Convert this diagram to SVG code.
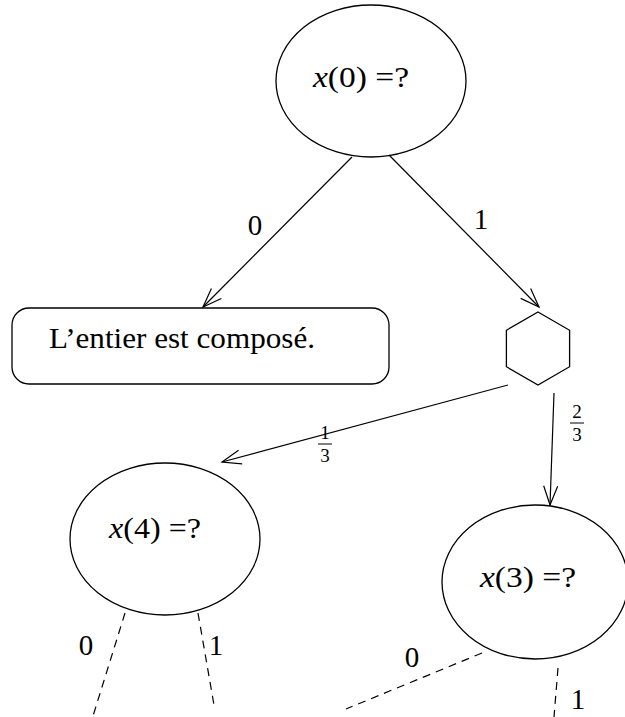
<svg xmlns="http://www.w3.org/2000/svg" width="625" height="717" viewBox="0 0 625 717">
<style>
.n{fill:none;stroke:#000;stroke-width:1.3}
.t{font-size:29px;fill:#000}
.f{font-size:19px;fill:#000}
.e{stroke:#000;stroke-width:1.2;fill:none}
.d{stroke:#000;stroke-width:1.2;fill:none;stroke-dasharray:8,6}
</style>
<defs>
<marker id="a" viewBox="-20 -8 22 16" markerWidth="22" markerHeight="16" refX="0" refY="0" orient="auto" markerUnits="userSpaceOnUse">
<path d="M-19,-7 L0,0 L-19,7" fill="none" stroke="#000" stroke-width="1.2"/>
</marker>
</defs>
<rect width="625" height="717" fill="#fff"/>
<g font-family="Liberation Serif, DejaVu Serif, serif">
<g id="n0">
<ellipse class="n" cx="371" cy="81" rx="95" ry="76"/>
<text class="t" x="313" y="87" textLength="96" lengthAdjust="spacingAndGlyphs"><tspan font-style="italic">x</tspan>(0) =?</text>
</g>
<g id="composite">
<rect class="n" x="12" y="308" width="377" height="76" rx="17"/>
<text class="t" x="49" y="348" textLength="266" lengthAdjust="spacingAndGlyphs">L’entier est composé.</text>
</g>
<g id="chance">
<polygon class="n" points="538,312 569.6,330.3 569.6,366.7 538,385 506.4,366.7 506.4,330.3"/>
</g>
<g id="n4">
<ellipse class="n" cx="165" cy="539" rx="95" ry="76"/>
<text class="t" x="109" y="538" textLength="92" lengthAdjust="spacingAndGlyphs"><tspan font-style="italic">x</tspan>(4) =?</text>
</g>
<g id="n3">
<ellipse class="n" cx="535" cy="582" rx="93" ry="77"/>
<text class="t" x="480" y="587" textLength="96" lengthAdjust="spacingAndGlyphs"><tspan font-style="italic">x</tspan>(3) =?</text>
</g>
<g id="connectors">
<line class="e" x1="352" y1="157" x2="203" y2="307" marker-end="url(#a)"/>
<line class="e" x1="389" y1="155" x2="539" y2="307" marker-end="url(#a)"/>
<line class="e" x1="508" y1="385" x2="222" y2="462" marker-end="url(#a)"/>
<line class="e" x1="554" y1="393" x2="550" y2="505" marker-end="url(#a)"/>
<line class="d" x1="125" y1="613" x2="93" y2="716"/>
<line class="d" x1="198" y1="613" x2="214" y2="705"/>
<line class="d" x1="482" y1="653" x2="346" y2="709"/>
<line class="d" x1="558" y1="668" x2="554" y2="717"/>
<text class="t" x="255" y="235" text-anchor="middle">0</text>
<text class="t" x="481" y="229" text-anchor="middle">1</text>
<text class="f" x="325" y="439" text-anchor="middle">1</text>
<line x1="318" y1="444" x2="332" y2="444" stroke="#000" stroke-width="1"/>
<text class="f" x="325" y="462" text-anchor="middle">3</text>
<text class="f" x="577" y="418" text-anchor="middle">2</text>
<line x1="570" y1="423" x2="584" y2="423" stroke="#000" stroke-width="1"/>
<text class="f" x="577" y="441" text-anchor="middle">3</text>
<text class="t" x="86" y="655" text-anchor="middle">0</text>
<text class="t" x="216" y="655" text-anchor="middle">1</text>
<text class="t" x="412" y="667" text-anchor="middle">0</text>
<text class="t" x="578" y="709" text-anchor="middle">1</text>
</g>
</g>
</svg>
